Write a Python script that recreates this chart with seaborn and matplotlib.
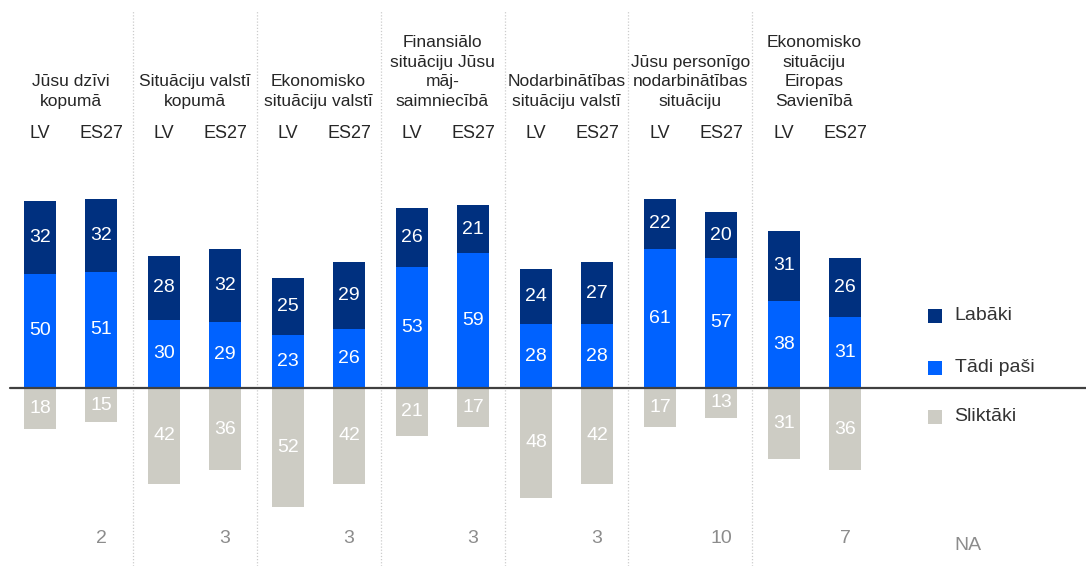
import matplotlib
matplotlib.use("Agg")
import matplotlib.pyplot as plt
import seaborn as sns
import pandas as pd
import numpy as np

categories = ["Jūsu dzīvi\nkopumā", "Situāciju valstī\nkopumā", "Ekonomisko\nsituāciju valstī",
              "Finansiālo\nsituāciju Jūsu\nmāj-\nsaimniecībā", "Nodarbinātības\nsituāciju valstī",
              "Jūsu personīgo\nnodarbinātības\nsituāciju", "Ekonomisko\nsituāciju\nEiropas\nSavienībā"]
countries = ["LV", "ES27"]
labaki_lv = [32, 28, 25, 26, 24, 22, 31]
labaki_es = [32, 32, 29, 21, 27, 20, 26]
tadi_lv = [50, 30, 23, 53, 28, 61, 38]
tadi_es = [51, 29, 26, 59, 28, 57, 31]
slikt_lv = [18, 42, 52, 21, 48, 17, 31]
slikt_es = [15, 36, 42, 17, 42, 13, 36]
na_vals = ["2", "3", "3", "3", "3", "10", "7"]
legend_labels = ["Labāki", "Tādi paši", "Sliktāki"]

c_lab = "#00307F"
c_tad = "#0062FF"
c_sli = "#CDCCC4"

sns.set_theme(style="white")
plt.rcParams["font.family"] = ["Liberation Sans", "DejaVu Sans"]

rows = []
for i, cat in enumerate(categories):
    for c, lab, tad, sli in [("LV", labaki_lv[i], tadi_lv[i], slikt_lv[i]),
                             ("ES27", labaki_es[i], tadi_es[i], slikt_es[i])]:
        rows.append(dict(cat=cat, country=c, lab=lab, tad=tad, sli=sli))
df = pd.DataFrame(rows)
df["top"] = df["lab"] + df["tad"]
df["neg"] = -df["sli"]

fig = plt.figure(figsize=(10.86, 5.66), dpi=100)
ax = fig.add_axes([0, 0, 1, 1])

common = dict(x="cat", hue="country", order=categories, hue_order=countries,
              width=0.984, gap=0.49, legend=False, ax=ax, linewidth=0, errorbar=None,
              saturation=1)
sns.barplot(data=df, y="top", palette=[c_lab, c_lab], **common)
sns.barplot(data=df, y="tad", palette=[c_tad, c_tad], **common)
sns.barplot(data=df, y="neg", palette=[c_sli, c_sli], **common)

ax.set_xlim(-0.569, 8.19)
ax.set_ylim(-78, 170)
ax.axis("off")

# zero line
ax.plot([-0.49, 8.19], [0, 0], color="#404040", lw=1.6, zorder=5)

# separators
for k in range(6):
    ax.axvline(k + 0.5, ymin=0, ymax=(170 - 4.5 + 78) / 248, color="#cccccc",
               lw=0.9, ls=(0, (1, 1.5)), zorder=0)

fs = 12.5
fsv = 14
offs = {"LV": -0.246, "ES27": 0.246}
for i, cat in enumerate(categories):
    ax.text(i, 122.3, cat, ha="center", va="bottom", fontsize=fs, color="#262626",
            linespacing=1.38)
    for c in countries:
        ax.text(i + offs[c], 111.5, c, ha="center", va="center", fontsize=13, color="#262626")
        r = df[(df.cat == cat) & (df.country == c)].iloc[0]
        x = i + offs[c]
        ax.text(x, r.tad + r.lab / 2, str(r.lab), ha="center", va="center",
                fontsize=fsv, color="white", zorder=6)
        ax.text(x, r.tad / 2, str(r.tad), ha="center", va="center",
                fontsize=fsv, color="white", zorder=6)
        ax.text(x, -r.sli / 2, str(r.sli), ha="center", va="center",
                fontsize=fsv, color="white", zorder=6)
    ax.text(i + offs["ES27"], -66, na_vals[i], ha="center", va="center",
            fontsize=fsv, color="#8c8c8c")

# legend
leg_x = 6.97
for lab, col, y in zip(legend_labels, [c_lab, c_tad, c_sli], [31.6, 8.8, -12.7]):
    ax.scatter([leg_x], [y], marker="s", s=90, color=col, zorder=6, linewidths=0)
    ax.text(leg_x + 0.16, y, lab, ha="left", va="center", fontsize=fsv, color="#333333")
ax.text(leg_x + 0.16, -69, "NA", ha="left", va="center", fontsize=fsv, color="#8c8c8c")

fig.savefig("out.png", dpi=100)
